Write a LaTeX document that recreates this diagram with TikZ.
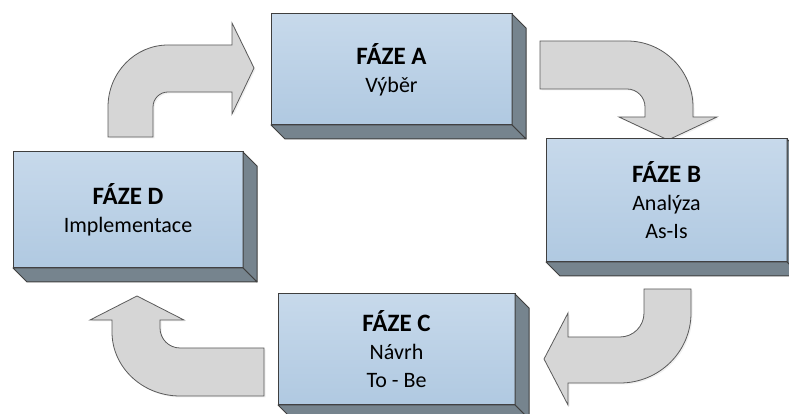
\documentclass[tikz,border=0pt]{standalone}
\usepackage{fontspec}
\setmainfont{Carlito}
\usepackage{tikz}
\usetikzlibrary{calc,positioning,shadows}
\definecolor{boxline}{HTML}{3F3F3F}
\definecolor{boxtop}{HTML}{C7D9EB}
\definecolor{boxbottom}{HTML}{B0C9E1}
\definecolor{boxside}{HTML}{76848E}
\definecolor{arrowfill}{HTML}{D6D6D6}
\definecolor{arrowline}{HTML}{5A5A5A}
\tikzset{%
	phase/.style     = {draw=boxline, line width=1pt, rectangle, outer sep=0pt, top color=boxtop, bottom color=boxbottom, align=center, font=\fontsize{22}{28}\selectfont},
	side/.style      = {draw=boxline, line width=1pt, fill=boxside, line join=round},
	bentarrow/.style = {draw=arrowline, line width=0.8pt, fill=arrowfill, line join=miter, drop shadow={opacity=0.12, shadow xshift=1.5pt, shadow yshift=-1.5pt}},
}
\newcommand{\phasetitle}[1]{{\fontsize{25}{28}\selectfont\bfseries #1}}
\newcommand{\phasesides}[1]{%
	\filldraw[side] (#1.north east) -- ++(14,-14) -- ($(#1.south east)+(14,-14)$) -- (#1.south east) -- cycle;
	\filldraw[side] (#1.south west) -- (#1.south east) -- ($(#1.south east)+(14,-14)$) -- ($(#1.south west)+(14,-14)$) -- cycle;}

\begin{document}
\begin{tikzpicture}[x=1pt,y=1pt]
		\useasboundingbox (0,0) rectangle (789,414);
		
		% curved arrows between the phases
		\path[bentarrow] (108,277) -- (153,277) -- (153,307) arc[start angle=180,end angle=90,radius=15] -- (232,322) -- (232,300) -- (254,346) -- (232,391) -- (232,369) -- (168,369) arc[start angle=90,end angle=180,x radius=60,y radius=62] -- cycle;
		\path[bentarrow] (540,373) -- (540,325) -- (627,325) arc[start angle=90,end angle=0,radius=18] -- (645,297) -- (619,297) -- (668,274) -- (717,297) -- (693,297) -- (693,307) arc[start angle=0,end angle=90,radius=66] -- cycle;
		\path[bentarrow] (691,125) -- (644,125) -- (644,101) arc[start angle=0,end angle=-90,radius=24] -- (568,77) -- (568,101) -- (544,55) -- (568,9) -- (568,31) -- (620,31) arc[start angle=-90,end angle=0,x radius=71,y radius=70] -- cycle;
		\path[bentarrow] (264,66) -- (180,66) arc[start angle=270,end angle=180,radius=20] -- (160,94) -- (184,94) -- (137,118) -- (90,94) -- (112,94) -- (112,82) arc[start angle=180,end angle=270,x radius=68,y radius=64] -- (264,18) -- cycle;
		
		% phases
		\node[phase, minimum width=241, minimum height=111] (fazeA) at (391.5,344.5) {\phasetitle{FÁZE A}\\Výběr};
		\node[phase, minimum width=241, minimum height=123] (fazeB) at (666.5,213.5) {\phasetitle{FÁZE B}\\Analýza\\As-Is};
		\node[phase, minimum width=237, minimum height=111] (fazeC) at (396.5,64.5) {\phasetitle{FÁZE C}\\Návrh\\To - Be};
		\node[phase, minimum width=230, minimum height=116] (fazeD) at (128,204) {\phasetitle{FÁZE D}\\Implementace};
		
		\phasesides{fazeA}
		\phasesides{fazeB}
		\phasesides{fazeC}
		\phasesides{fazeD}
	\end{tikzpicture}
\end{document}
